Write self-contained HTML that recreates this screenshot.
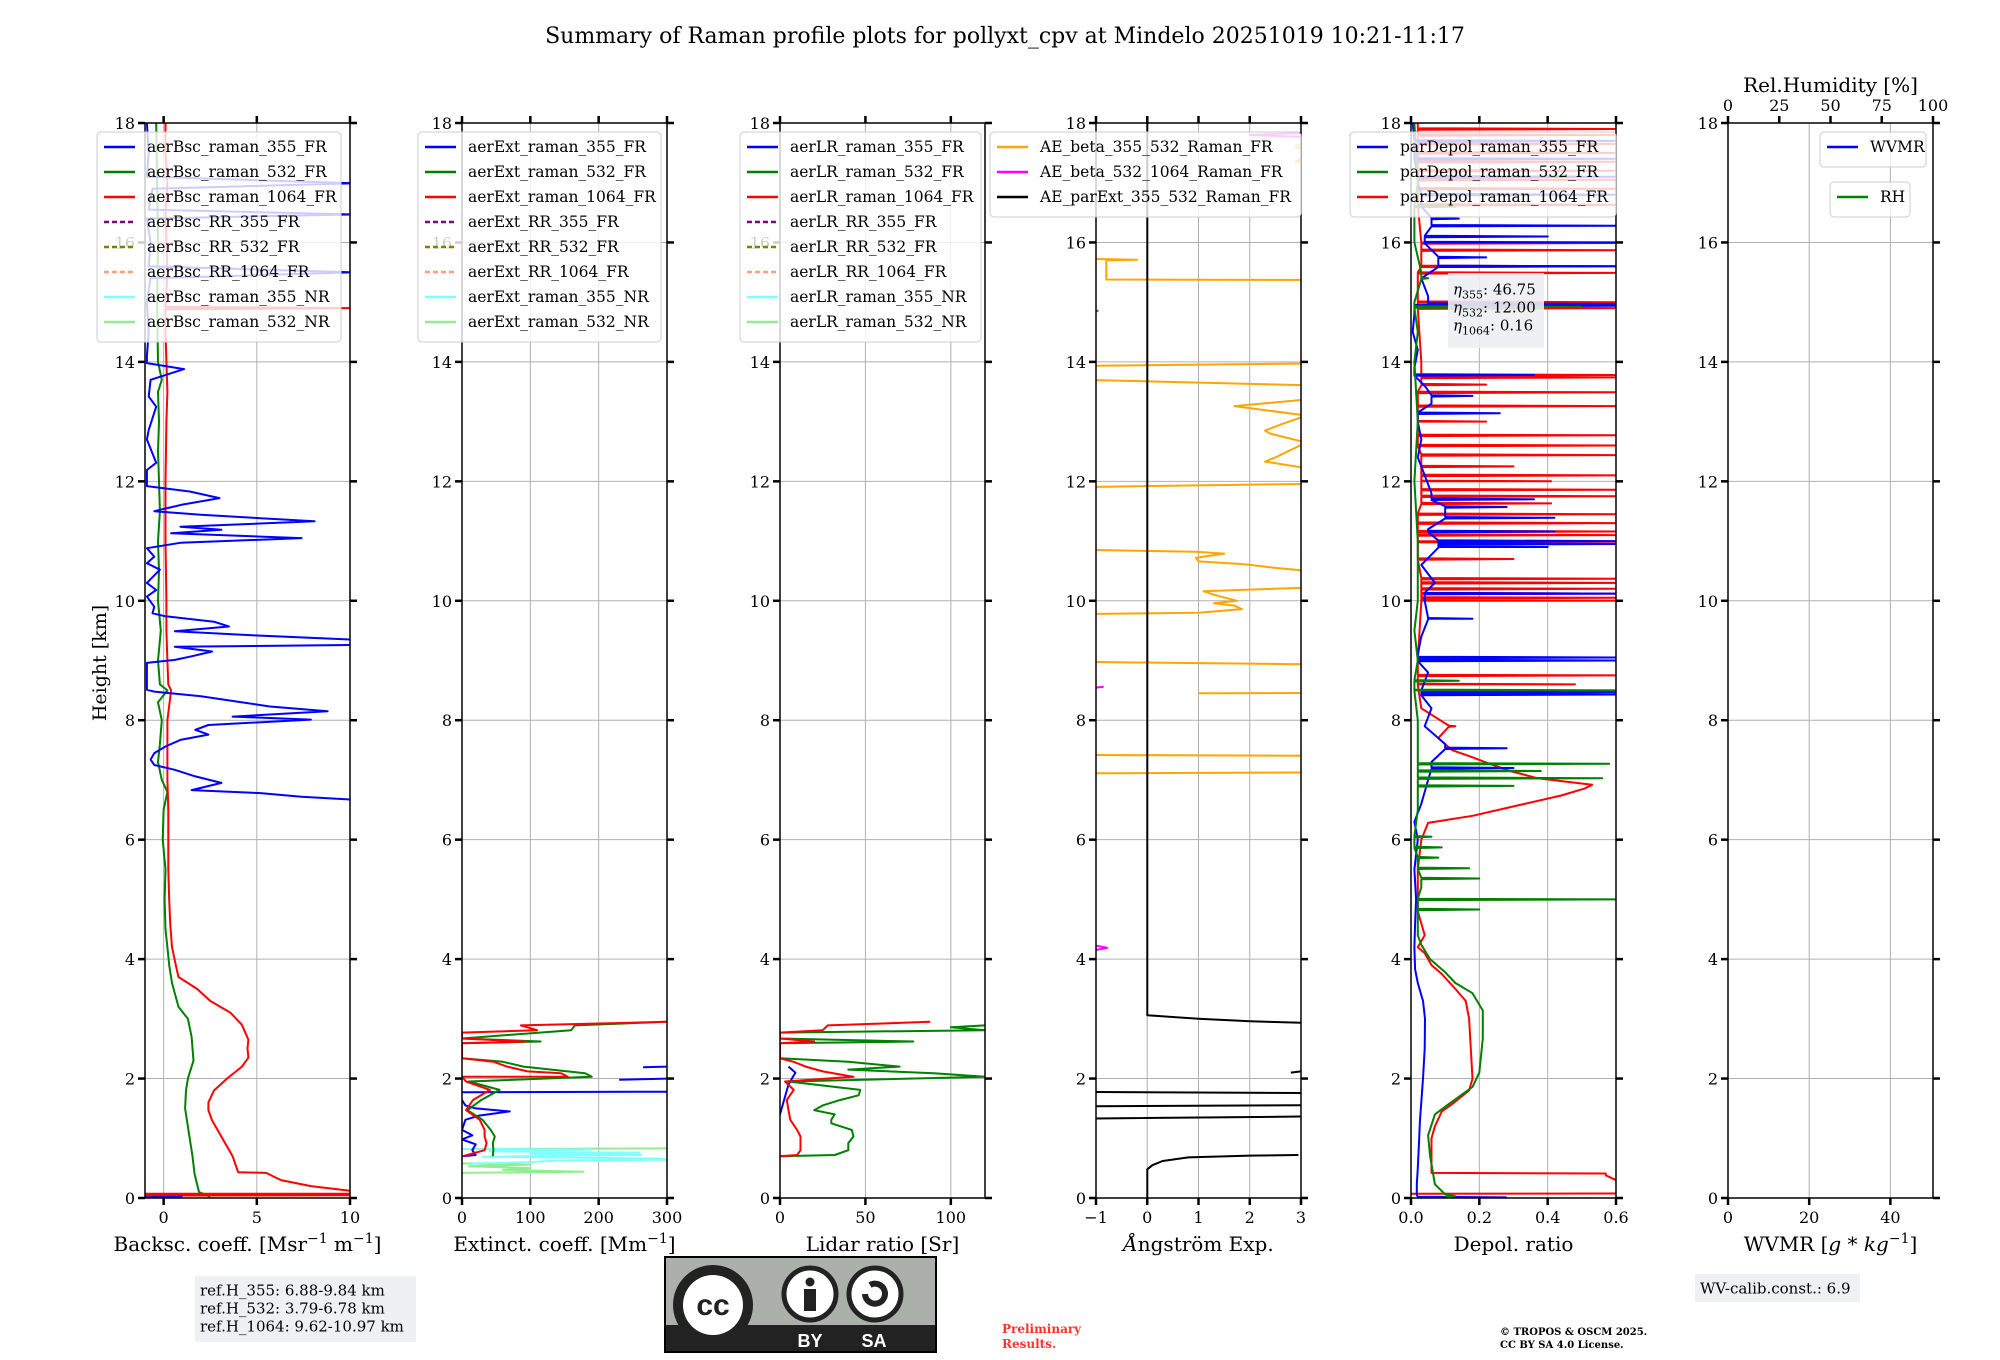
<!DOCTYPE html>
<html><head><meta charset="utf-8">
<style>
html,body{margin:0;padding:0;background:#fff;}
svg{display:block;font-family:"DejaVu Serif","Liberation Serif",serif;}
</style></head>
<body>
<svg id="chart" width="2000" height="1360" viewBox="0 0 2000 1360" xmlns="http://www.w3.org/2000/svg">
<rect x="0" y="0" width="2000" height="1360" fill="#fff"/>
<text x="1005" y="43" font-size="22" text-anchor="middle">Summary of Raman profile plots for pollyxt_cpv at Mindelo 20251019 10:21-11:17</text>
<text transform="translate(106,663) rotate(-90)" font-size="19" text-anchor="middle">Height [km]</text>
<g id="panels"></g>
<g id="overlay"></g>
</svg>
<script>
// ---------- data ----------
const heightTicks=[0,2,4,6,8,10,12,14,16,18];
// panel 1: backscatter
const bsc355H=[0.01,0.02,null,6.67,6.72,6.78,6.83,6.95,7.06,7.17,7.25,7.34,7.45,7.56,7.67,7.76,7.84,7.92,8.01,8.06,8.15,8.23,8.40,8.48,8.51,8.70,8.96,9.01,9.07,9.15,9.23,9.26,9.35,9.43,9.49,9.57,9.65,9.74,9.79,9.90,10.07,10.18,10.30,10.52,10.63,10.74,10.88,10.97,11.05,11.13,11.19,11.24,11.33,11.44,11.50,11.61,11.72,11.83,11.92,12.19,12.31,12.70,12.86,13.25,13.42,13.70,13.88,13.98,14.1,14.5,15.0,15.4,15.5,15.6,16.0,16.4,16.47,16.55,16.9,16.99,17.1,17.5,18];
const bsc355V=[-1,1,null,10.2,7.4,5.2,1.5,3.1,1.7,0.6,-0.5,-0.7,-0.5,0.1,0.9,2.4,1.7,2.4,7.9,3.7,8.8,5.7,2.0,-0.5,-0.9,-0.9,-0.9,0.6,1.5,2.6,0.6,10.2,10.2,4.2,0.6,3.5,2.7,0.1,-0.6,-0.5,-0.9,-0.4,-0.9,-0.2,-0.9,-0.5,-0.9,0.9,7.4,0.4,3.1,0.9,8.1,2.0,-0.5,1.0,3.0,1.4,-0.9,-0.9,-0.4,-0.9,-0.8,-0.4,-0.8,-0.7,1.1,-0.9,-0.9,-0.8,-0.9,-0.7,10.2,-0.8,-0.7,-0.9,10.2,-0.8,-0.6,10.2,-0.9,-0.8,-0.9];
const bsc532H=[0.02,0.06,0.1,0.4,0.7,1.0,1.5,1.8,2.0,2.3,2.7,3.0,3.2,3.6,3.9,4.2,4.5,5.0,5.5,6.0,6.5,6.8,7.0,7.3,7.6,8.0,8.3,8.5,8.6,9.0,9.5,10,10.5,11,11.5,12,12.5,13,13.5,13.7,14,15,16,17,18];
const bsc532V=[2.5,2.2,1.9,1.66,1.55,1.4,1.15,1.2,1.3,1.6,1.5,1.3,0.8,0.45,0.3,0.2,0.1,0.05,0.1,-0.05,0.0,0.2,-0.1,-0.3,-0.2,-0.1,-0.3,0.2,-0.2,-0.3,-0.15,-0.3,-0.25,-0.3,-0.2,-0.25,-0.3,-0.25,-0.3,-0.1,-0.3,-0.35,-0.3,-0.35,-0.4];
const bsc1064H=[0.04,0.045,0.07,0.072,0.1,0.12,0.2,0.3,0.42,0.43,0.7,1.0,1.3,1.47,1.6,1.8,2.0,2.2,2.35,2.5,2.65,2.9,3.1,3.3,3.5,3.7,3.9,4.2,4.6,5.0,5.5,6.0,6.5,7.0,7.5,8.0,8.5,8.6,9.0,9.5,10,11,12,13,13.5,14,14.5,14.88,14.9,14.92,15.5,16,16.5,17,17.5,18];
const bsc1064V=[-1,10,10,-1,null,10,7.9,6.3,5.5,4.0,3.7,3.15,2.6,2.4,2.4,2.7,3.4,4.2,4.55,4.5,4.55,4.2,3.6,2.5,1.8,0.8,0.65,0.45,0.35,0.3,0.25,0.25,0.25,0.2,0.2,0.2,0.4,0.25,0.2,0.15,0.15,0.1,0.1,0.15,0.2,0.15,0.1,0.1,10.2,0.1,0.2,0.15,0.1,0.2,0.1,0.1];
// panel 2: extinction
const ext355H=[0.70,0.72,0.80,0.90,0.98,1.05,1.14,1.31,1.38,1.45,1.50,1.55,1.64,null,1.77,1.78,null,1.98,2.0,null,2.19,2.2];
const ext355V=[0,20,15,20,0,15,0,5,25,70,20,5,0,null,0,300,null,230,300,null,265,300];
const ext532H=[0.70,0.80,0.92,1.03,1.14,1.31,1.47,1.64,1.81,1.95,2.03,2.09,2.20,2.28,2.34,2.59,2.62,2.67,2.81,2.89,2.95];
const ext532V=[45,46,45,48,42,30,8,28,55,10,190,180,90,60,0,0,115,0,160,165,300];
const ext1064H=[0.70,0.80,0.92,1.03,1.14,1.31,1.47,1.64,1.81,1.95,2.03,2.03,2.09,2.12,2.20,2.28,2.34,2.59,2.62,2.67,2.77,2.81,2.89,2.95];
const ext1064V=[1,33,36,33,33,26,6,16,41,6,0,155,145,96,66,46,0,0,93,0,0,110,86,300];
const ext355nrH=[0.55,0.58,0.60,0.63,0.64,0.66,0.69,0.72,0.74,0.76,0.78,0.81,0.82];
const ext355nrV=[10,20,95,145,300,290,30,262,100,260,40,190,0];
const ext532nrH=[0.42,0.44,0.47,0.50,0.53,0.56,0.58,null,0.82,0.83];
const ext532nrV=[0,178,60,100,10,100,0,null,0,300];
// panel 3: lidar ratio
const lr355H=[1.4,1.6,1.9,2.1,2.2];
const lr355V=[0,2,5,9,5];
const lr532H=[0.70,0.72,0.8,0.92,1.03,1.14,1.25,1.31,1.40,1.47,1.55,1.64,1.72,1.81,1.95,2.03,2.09,2.15,2.2,2.28,2.34,2.59,2.62,2.67,2.77,2.81,2.86,2.89];
const lr532V=[0,32,40,40,43,42,30,30,32,20,25,35,46,47,5,120,90,40,70,40,0,0,78,0,0,120,100,120];
const lr1064H=[0.70,0.72,0.8,0.92,1.03,1.14,1.31,1.47,1.64,1.81,1.95,2.03,2.12,2.2,2.28,2.34,2.59,2.62,2.67,2.77,2.81,2.89,2.95];
const lr1064V=[0,10,12,12,12,10,6,5,4,8,3,43,25,15,8,0,0,20,0,0,25,28,88];
// panel 4: Angstrom
const aeBscH=[7.10,7.13,7.40,7.43,null,8.45,8.46,8.92,9.01,null,9.74,9.80,9.86,9.92,9.96,10.0,10.10,10.16,10.23,null,10.47,10.55,10.61,10.66,10.72,10.79,10.82,10.91,null,11.86,11.98,null,12.17,12.33,12.40,12.65,12.80,12.85,12.95,13.10,13.26,13.37,13.60,13.78,null,13.90,13.99,null,15.37,15.38,15.70,15.71,15.73,null,17.3,17.35,17.5,17.6,17.9];
const aeBscV=[-5,5,5,-5,null,1.0,5,5,-5,null,-5,1.0,1.85,1.7,1.3,1.75,1.3,1.1,3.5,null,3.5,2.5,1.9,1.0,0.95,1.5,0.95,-5,null,-5,5,null,3.5,2.3,2.5,3.1,2.4,2.3,2.6,3.1,1.7,3.1,3.5,-5,null,-5,5,null,5,-0.8,-0.8,-0.2,-1.5,null,3.5,2.9,3.2,2.9,3.5];
const aeBsc2H=[4.12,4.19,4.26,null,8.53,8.56,null,14.8,14.86,null,17.75,17.8,17.85];
const aeBsc2V=[-1.2,-0.78,-1.2,null,-1.2,-0.85,null,-1.2,-0.95,null,3.5,2.0,3.5];
const aeExtH=[0,0.48,0.55,0.62,0.68,0.71,0.72,null,1.30,1.38,null,1.52,1.56,null,1.75,1.79,null,2.10,2.12,null,2.92,2.96,3.0,3.06,18];
const aeExtV=[0,0,0.1,0.3,0.8,2.0,2.95,null,-5,5,null,-5,5,null,5,-5,null,2.8,3.0,null,3.5,2.0,1.0,0,0];
// panel 5: depolarization
const dep355H=[0.01,0.02,0.05,0.23,0.5,1.0,1.28,2.0,2.5,3.0,3.3,3.6,3.83,4.2,4.6,5.0,5.5,6.0,6.3,6.6,7.0,7.3,7.6,7.9,8.2,8.5,8.8,9.1,9.4,9.7,10,10.3,10.6,10.9,11.2,11.5,11.8,12.1,12.4,12.7,13,13.3,13.6,13.9,14.2,14.5,14.8,15.1,15.4,15.7,16,16.3,16.6,17,17.5,18];
const dep355V=[0.28,0.02,0.017,0.017,0.02,0.024,0.026,0.035,0.04,0.041,0.035,0.02,0.012,0.01,0.012,0.015,0.01,0.02,0.01,0.03,0.05,0.06,0.1,0.04,0.06,0.03,0.05,0.02,0.03,0.05,0.04,0.07,0.03,0.08,0.05,0.1,0.06,0.04,0.02,0.03,0.02,0.06,0.04,0.01,0.02,0.005,0.01,0.05,0.03,0.08,0.04,0.06,0.03,0.02,0.01,0.005];
const dep355SpikeH=[7.2,7.53,8.43,8.47,9.0,9.05,9.7,10.12,10.9,10.95,11.0,11.16,11.39,11.57,11.7,13.14,13.43,13.78,14.94,14.97,15.6,15.75,16.0,16.1,16.28,16.4,16.8,17.1,17.4,17.7];
const dep355SpikeV=[0.3,0.28,0.6,0.6,0.6,0.6,0.18,0.6,0.4,0.6,0.6,0.42,0.42,0.28,0.36,0.26,0.18,0.36,0.6,0.6,0.6,0.22,0.6,0.4,0.6,0.14,0.6,0.6,0.6,0.6];
const dep532H=[0.02,0.03,0.06,0.23,0.7,1.05,1.4,1.57,1.86,2.1,2.67,3.14,3.43,3.6,3.78,4.0,4.24,4.4,4.8,5.2,5.6,6.0,6.5,7.0,7.5,8,8.5,9,9.5,10,11,12,13,14,14.5,15,15.5,16,16.5,17,18];
const dep532V=[0.1,0.13,0.1,0.07,0.056,0.05,0.07,0.11,0.18,0.2,0.21,0.21,0.18,0.13,0.1,0.056,0.03,0.02,0.02,0.03,0.02,0.01,0.02,0.02,0.02,0.02,0.01,0.02,0.01,0.02,0.02,0.01,0.02,0.01,0.02,0.01,0.03,0.01,0.01,0.02,0.01];
const dep532SpikeH=[4.83,5.0,5.35,5.52,5.7,5.87,6.05,6.9,7.03,7.15,7.27,8.5,8.66,14.92,15.4,16.6];
const dep532SpikeV=[0.2,0.6,0.2,0.17,0.08,0.09,0.06,0.3,0.56,0.38,0.58,0.6,0.14,0.5,0.05,0.13];
const dep1064H=[0.07,0.075,0.1,0.3,0.38,0.41,0.42,0.7,1.0,1.2,1.45,1.57,1.8,2.0,2.5,3.0,3.3,3.5,3.75,3.9,4.1,4.2,4.4,4.8,5.5,6.0,6.28,6.4,6.57,6.74,6.86,6.92,7.03,7.15,7.27,7.38,7.5,7.7,7.91,8.2,8.6,9,10,11,12,13,14,15,16,17,18];
const dep1064V=[0,0.6,null,0.6,0.57,0.57,0.06,0.06,0.06,0.07,0.09,0.12,0.17,0.18,0.175,0.17,0.16,0.13,0.09,0.06,0.04,0.02,0.04,0.02,0.02,0.03,0.05,0.18,0.31,0.44,0.51,0.53,0.37,0.29,0.23,0.18,0.12,0.08,0.11,0.03,0.02,0.02,0.03,0.02,0.03,0.02,0.03,0.02,0.03,0.02,0.02];
const dep1064SpikeH=[7.9,8.6,8.75,10.0,10.05,10.12,10.2,10.3,10.37,10.7,10.99,11.1,11.16,11.3,11.45,11.63,11.75,11.86,12.0,12.1,12.25,12.44,12.6,12.77,13.0,13.26,13.49,13.62,13.74,13.78,14.9,14.95,15.0,15.49,15.6,15.87,15.99,16.63,16.9,17.05,17.2,17.35,17.5,17.65,17.8,17.9];
const dep1064SpikeV=[0.13,0.48,0.6,0.6,0.6,0.6,0.6,0.6,0.6,0.3,0.6,0.6,0.6,0.6,0.6,0.41,0.6,0.6,0.41,0.6,0.3,0.6,0.6,0.6,0.22,0.6,0.6,0.22,0.6,0.6,0.6,0.6,0.6,0.6,0.6,0.6,0.6,0.6,0.6,0.6,0.6,0.6,0.6,0.6,0.6,0.6];
// axis ticks
const p1Ticks=[0,5,10], p2Ticks=[0,100,200,300], p3Ticks=[0,50,100], p4Ticks=[-1,0,1,2,3];
const p5Ticks=[0,0.2,0.4,0.6], p5Labels=["0.0","0.2","0.4","0.6"], p6Ticks=[0,20,40];
const rhTicks=[0,25,50,75,100];

// ---------- layout ----------
const NS="http://www.w3.org/2000/svg";
const TOP=123, BOT=1198, W=205;
const panels=[
 {left:145,min:-1,max:10,ticks:p1Ticks,name:"backscatter"},
 {left:462,min:0,max:300,ticks:p2Ticks,name:"extinction"},
 {left:780,min:0,max:120,ticks:p3Ticks,name:"lidar-ratio"},
 {left:1096,min:-1,max:3,ticks:p4Ticks,name:"angstrom"},
 {left:1411,min:0,max:0.6,ticks:p5Ticks,labels:p5Labels,name:"depol"},
 {left:1728,min:0,max:50.5,ticks:p6Ticks,name:"wvmr"}];
const root=document.getElementById('panels');
function el(tag,attrs,parent){const e=document.createElementNS(NS,tag);for(const k in attrs)e.setAttribute(k,attrs[k]);(parent||root).appendChild(e);return e;}
function yS(h){return BOT-(h/18)*(BOT-TOP);}
function xS(p,v){return p.left+(v-p.min)/(p.max-p.min)*W;}
function fmtMinus(s){return String(s).replace('-','\u2212');}

panels.forEach((p,i)=>{
 const g=el('g',{});
 
 
 const cp=el('clipPath',{id:'clip'+i},g);
 el('rect',{x:p.left,y:TOP,width:W,height:BOT-TOP},cp);
 heightTicks.forEach(h=>{const l=el('line',{x1:p.left,x2:p.left+W,y1:yS(h),y2:yS(h),stroke:'#b0b0b0','stroke-width':1},g);
   });
 p.ticks.forEach(v=>{const l=el('line',{x1:xS(p,v),x2:xS(p,v),y1:TOP,y2:BOT,stroke:'#b0b0b0','stroke-width':1},g);
   });
 p.g=g;p.clip='url(#clip'+i+')';
});

function drawSeries(pi,H,V,color,name,opts){
 opts=opts||{};
 const p=panels[pi];let d='',pen=false;
 for(let k=0;k<H.length;k++){
  if(H[k]===null||V[k]===null){pen=false;continue;}
  const x=xS(p,V[k]).toFixed(1),y=yS(H[k]).toFixed(1);
  d+=(pen?'L':'M')+x+' '+y+' ';pen=true;
 }
 const path=el('path',{d:d,fill:'none',stroke:color,'stroke-width':opts.w||2,'stroke-linejoin':'round','clip-path':p.clip},p.g);
 
 
}
function withSpikes(H,V,SH,SV){
 const pts=[];H.forEach((h,k)=>pts.push([h,V[k]]));
 SH.forEach((h,k)=>{
  let base=0.02,best=1e9;
  H.forEach((hh,j)=>{if(hh!==null&&V[j]!==null&&Math.abs(hh-h)<best){best=Math.abs(hh-h);base=V[j];}});
  pts.push([h-0.012,base],[h,SV[k]],[h+0.012,base]);
 });
 pts.sort((a,b)=>a[0]-b[0]);
 return [pts.map(q=>q[0]),pts.map(q=>q[1])];
}

drawSeries(0,bsc532H,bsc532V,'#008000','series-bsc-532');
drawSeries(0,bsc1064H,bsc1064V,'#ff0000','series-bsc-1064');
drawSeries(0,bsc355H,bsc355V,'#0000ff','series-bsc-355');
drawSeries(1,ext532nrH,ext532nrV,'#90ee90','series-ext-532-nr');
drawSeries(1,ext355nrH,ext355nrV,'#80ffff','series-ext-355-nr');
drawSeries(1,ext355H,ext355V,'#0000ff','series-ext-355');
drawSeries(1,ext532H,ext532V,'#008000','series-ext-532');
drawSeries(1,ext1064H,ext1064V,'#ff0000','series-ext-1064');
drawSeries(2,lr355H,lr355V,'#0000ff','series-lr-355');
drawSeries(2,lr532H,lr532V,'#008000','series-lr-532');
drawSeries(2,lr1064H,lr1064V,'#ff0000','series-lr-1064');
drawSeries(3,aeBscH,aeBscV,'#ffa500','series-ae-beta-355-532');
drawSeries(3,aeBsc2H,aeBsc2V,'#ff00ff','series-ae-beta-532-1064');
drawSeries(3,aeExtH,aeExtV,'#000000','series-ae-ext-355-532');
let s=withSpikes(dep1064H,dep1064V,dep1064SpikeH,dep1064SpikeV);
drawSeries(4,s[0],s[1],'#ff0000','series-depol-1064');
s=withSpikes(dep355H,dep355V,dep355SpikeH,dep355SpikeV);
drawSeries(4,s[0],s[1],'#0000ff','series-depol-355');
s=withSpikes(dep532H,dep532V,dep532SpikeH,dep532SpikeV);
drawSeries(4,s[0],s[1],'#008000','series-depol-532');

const xlabels=[
 'Backsc. coeff. [Msr<tspan dy="-8" font-size="14">\u22121</tspan><tspan dy="8"> m</tspan><tspan dy="-8" font-size="14">\u22121</tspan><tspan dy="8">]</tspan>',
 'Extinct. coeff. [Mm<tspan dy="-8" font-size="14">\u22121</tspan><tspan dy="8">]</tspan>',
 'Lidar ratio [Sr]',
 '<tspan font-style="italic">\u00c5</tspan>ngstr\u00f6m Exp.',
 'Depol. ratio',
 'WVMR [<tspan font-style="italic">g</tspan> * <tspan font-style="italic">kg</tspan><tspan dy="-8" font-size="14">\u22121</tspan><tspan dy="8">]</tspan>'];
panels.forEach((p,i)=>{
 const g=el('g',{});
 
 
 el('rect',{x:p.left,y:TOP,width:W,height:BOT-TOP,fill:'none',stroke:'#000','stroke-width':1.5},g);
 heightTicks.forEach(h=>{
  el('line',{x1:p.left-7,x2:p.left,y1:yS(h),y2:yS(h),stroke:'#000','stroke-width':2.5},g);
  el('line',{x1:p.left+W,x2:p.left+W+7,y1:yS(h),y2:yS(h),stroke:'#000','stroke-width':2.5},g);
  const t=el('text',{x:p.left-10,y:yS(h)+6,'font-size':16,'text-anchor':'end'},g);
  
  t.textContent=h;
 });
 p.ticks.forEach((v,k)=>{
  const x=xS(p,v);
  el('line',{x1:x,x2:x,y1:BOT,y2:BOT+7,stroke:'#000','stroke-width':2.5},g);
  if(i<5) el('line',{x1:x,x2:x,y1:TOP-7,y2:TOP,stroke:'#000','stroke-width':2.5},g);
  const t=el('text',{x:x,y:BOT+25,'font-size':16,'text-anchor':'middle'},g);
  
  t.textContent=p.labels?p.labels[k]:fmtMinus(v);
 });
 const xl=el('text',{x:p.left+W/2,y:BOT+53,'font-size':20,'text-anchor':'middle'},g);
 
 xl.innerHTML=xlabels[i];
});
(function(){
 const p=panels[5];const g=el('g',{});
 
 rhTicks.forEach(v=>{const x=p.left+v/100*W;
  el('line',{x1:x,x2:x,y1:TOP-7,y2:TOP,stroke:'#000','stroke-width':2.5},g);
  const t=el('text',{x:x,y:TOP-12,'font-size':16,'text-anchor':'middle'},g);
  
  t.textContent=v;});
 const t=el('text',{x:p.left+W/2,y:92,'font-size':20,'text-anchor':'middle'},g);
 
 t.textContent='Rel.Humidity [%]';
})();

const ov=document.getElementById('overlay');
function legend(x,y,w,entries,name){
 const g=el('g',{},ov);
 
 el('rect',{x:x,y:y,width:w,height:entries.length*25+10,rx:4,fill:'rgba(255,255,255,0.8)',stroke:'#cccccc','stroke-width':1},g);
 entries.forEach((e,k)=>{
  const cy=y+15+k*25;
  const l=el('line',{x1:x+7,x2:x+38,y1:cy,y2:cy,stroke:e[1],'stroke-width':2.5},g);
  if(e[2])l.setAttribute('stroke-dasharray','5,3');
  const t=el('text',{x:x+50,y:cy+5,'font-size':15.5},g);
  
  t.textContent=e[0];
 });
}
function stdEntries(pref){return [[pref+'_raman_355_FR','#0000ff'],[pref+'_raman_532_FR','#008000'],[pref+'_raman_1064_FR','#ff0000'],[pref+'_RR_355_FR','#800080',1],[pref+'_RR_532_FR','#808000',1],[pref+'_RR_1064_FR','#ffa07a',1],[pref+'_raman_355_NR','#80ffff'],[pref+'_raman_532_NR','#90ee90']];}
legend(97,132,244,stdEntries('aerBsc'),'legend-backscatter');
legend(418,132,243,stdEntries('aerExt'),'legend-extinction');
legend(740,132,241,stdEntries('aerLR'),'legend-lidar-ratio');
legend(990,132,311,[['AE_beta_355_532_Raman_FR','#ffa500'],['AE_beta_532_1064_Raman_FR','#ff00ff'],['AE_parExt_355_532_Raman_FR','#000000']],'legend-angstrom');
legend(1350,132,266,[['parDepol_raman_355_FR','#0000ff'],['parDepol_raman_532_FR','#008000'],['parDepol_raman_1064_FR','#ff0000']],'legend-depol');
legend(1820,132,106,[['WVMR','#0000ff']],'legend-wvmr');
legend(1830,182,80,[['RH','#008000']],'legend-rh');

function box(x,y,w,h,lines,name,dy,fs){
 const g=el('g',{},ov);
 
 
 el('rect',{x:x,y:y,width:w,height:h,fill:'rgba(236,238,243,0.9)'},g);
 lines.forEach((str,k)=>{const t=el('text',{x:x+5,y:y+dy+k*fs*1.2+fs*0.35,'font-size':fs},g);t.innerHTML=str;});
}
box(1448,273,96,75,['<tspan font-style="italic">η</tspan><tspan font-size="11" dy="4">355</tspan><tspan dy="-4">: 46.75</tspan>','<tspan font-style="italic">η</tspan><tspan font-size="11" dy="4">532</tspan><tspan dy="-4">: 12.00</tspan>','<tspan font-style="italic">η</tspan><tspan font-size="11" dy="4">1064</tspan><tspan dy="-4">: 0.16</tspan>'],'eta-info-box',16,15);
box(195,1276,221,66,['ref.H_355: 6.88-9.84 km','ref.H_532: 3.79-6.78 km','ref.H_1064: 9.62-10.97 km'],'reference-height-box',14,15);
box(1695,1274,165,28,['WV-calib.const.: 6.9'],'wv-calib-box',14,15);
</script>
<svg style="position:absolute;left:0;top:0" width="2000" height="1360" viewBox="0 0 2000 1360">
<g>
<rect x="665" y="1257" width="271" height="95" fill="#abb1aa" stroke="#000" stroke-width="2"/>
<rect x="666" y="1325" width="269" height="26" fill="#222"/>
<circle cx="713" cy="1305" r="40" fill="#222"/>
<circle cx="713" cy="1305" r="30" fill="#fff"/>
<text x="713" y="1315" font-family="Liberation Sans,sans-serif" font-weight="bold" font-size="30" text-anchor="middle" fill="#222">cc</text>
<circle cx="810" cy="1294" r="26" fill="#fff" stroke="#222" stroke-width="5"/>
<circle cx="810" cy="1282" r="4.5" fill="#222"/>
<rect x="804" y="1289" width="12" height="22" fill="#222"/>
<circle cx="875" cy="1294" r="26" fill="#fff" stroke="#222" stroke-width="5"/>
<path d="M865 1294 a10 10 0 1 0 5 -9" fill="none" stroke="#222" stroke-width="6"/>
<text x="810" y="1347" font-family="Liberation Sans,sans-serif" font-weight="bold" font-size="18" text-anchor="middle" fill="#fff">BY</text>
<text x="874" y="1347" font-family="Liberation Sans,sans-serif" font-weight="bold" font-size="18" text-anchor="middle" fill="#fff">SA</text>
</g>
<text x="1002" y="1333" font-family="DejaVu Serif,serif" font-weight="bold" font-size="12" fill="#ff3030">Preliminary</text>
<text x="1002" y="1348" font-family="DejaVu Serif,serif" font-weight="bold" font-size="12" fill="#ff3030">Results.</text>
<text x="1500" y="1335" font-family="DejaVu Serif,serif" font-weight="bold" font-size="10">© TROPOS &amp; OSCM 2025.</text>
<text x="1500" y="1348" font-family="DejaVu Serif,serif" font-weight="bold" font-size="10">CC BY SA 4.0 License.</text>
</svg>
</body></html>
